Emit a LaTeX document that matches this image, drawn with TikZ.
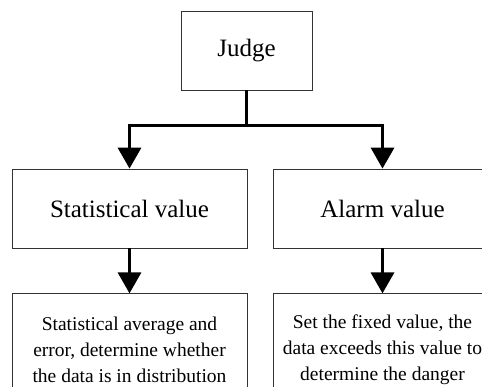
\documentclass[tikz,border=0pt]{standalone}
\usepackage{fontspec}
\setmainfont{Liberation Serif}
\usetikzlibrary{positioning,arrows.meta}

\begin{document}
\begin{tikzpicture}[
  x=1pt, y=1pt,
  box/.style={draw=black!80, line width=0.8pt, align=center,
              minimum height=79pt, inner sep=0pt},
  big/.style={font=\fontsize{25}{30}\selectfont},
  small/.style={font=\fontsize{19.5}{25.7}\selectfont},
  arr/.style={line width=3.3pt, -{Triangle[length=21pt, width=23pt]}}
]
\clip (0,0) rectangle (482,-387);

% top level
\node[box, big, minimum width=131pt] (judge) at (246.5,-50.5) {Judge};

% second level
\node[box, big, minimum width=235pt] (stat)  at (129.5,-208.5) {Statistical value};
\node[box, big, minimum width=219pt] (alarm) at (382.5,-208.5) {Alarm value};

% descriptions
\node[box, small, minimum width=235pt, minimum height=112pt, below=45pt of stat] (statdesc)
  {Statistical average and\\error, determine whether\\the data is in distribution};
\node[box, small, minimum width=219pt, minimum height=112pt, below=45pt of alarm] (alarmdesc)
  {Set the fixed value, the\\data exceeds this value to\\determine the danger};

% edges
\draw[arr] (judge.south) -- ++(0,-35) coordinate (split) -| (stat.north);
\draw[arr] (split) -| (alarm.north);
\draw[arr] (stat) -- (statdesc);
\draw[arr] (alarm) -- (alarmdesc);
\end{tikzpicture}
\end{document}
